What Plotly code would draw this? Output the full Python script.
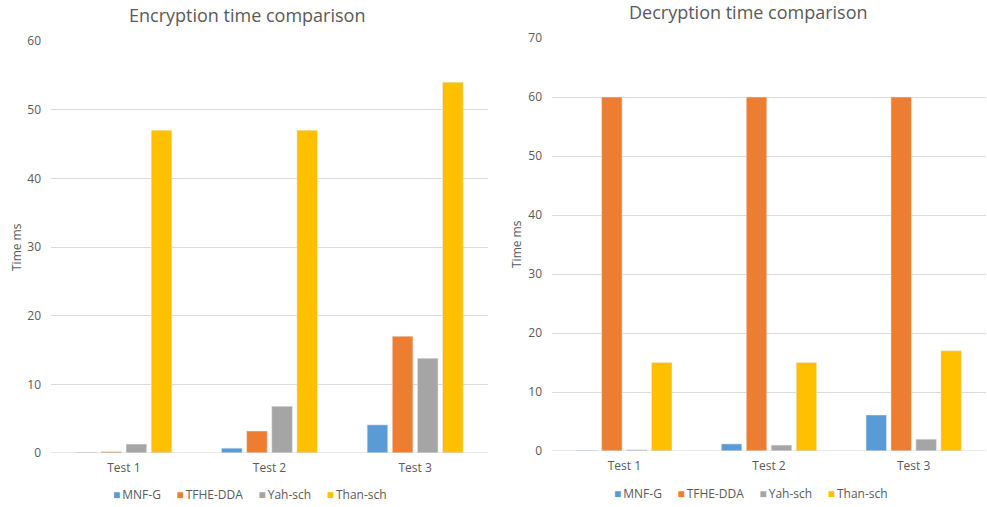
import plotly.graph_objects as go

categories = ["Test 1", "Test 2", "Test 3"]
series_names = ["MNF-G", "TFHE-DDA", "Yah-sch", "Than-sch"]
colors = ["#5B9BD5", "#ED7D31", "#A5A5A5", "#FFC000"]

# Encryption times (ms)
enc_mnf = [0.1, 0.7, 4.1]
enc_tfhe = [0.2, 3.2, 17.0]
enc_yah = [1.3, 6.8, 13.8]
enc_than = [47.0, 47.0, 54.0]

# Decryption times (ms)
dec_mnf = [0.1, 1.2, 6.1]
dec_tfhe = [60.0, 60.0, 60.0]
dec_yah = [0.2, 1.0, 2.0]
dec_than = [15.0, 15.0, 17.0]

enc_series = [enc_mnf, enc_tfhe, enc_yah, enc_than]
dec_series = [dec_mnf, dec_tfhe, dec_yah, dec_than]

W, H = 987, 507
text_color = "#595959"
font_family = "Open Sans, Liberation Sans, sans-serif"

fig = go.Figure()

for name, color, vals in zip(series_names, colors, enc_series):
    fig.add_trace(go.Bar(x=categories, y=vals, name=name, marker_color=color,
                         xaxis="x", yaxis="y", showlegend=False))
for name, color, vals in zip(series_names, colors, dec_series):
    fig.add_trace(go.Bar(x=categories, y=vals, name=name, marker_color=color,
                         xaxis="x2", yaxis="y2", showlegend=False))


def px_x(p):
    return p / W


def px_y(p):
    return (H - p) / H


axis_common = dict(showline=False, zeroline=False, ticks="",
                   tickfont=dict(size=12, color=text_color, family=font_family))

# Compact horizontal legend built as a single line of text with coloured swatches
gap = "\u00a0" * 5
legend_text = gap.join(
    f"<span style='color:{c}'>■</span>\u2009{n}" for n, c in zip(series_names, colors)
)

fig.update_layout(
    width=W, height=H,
    margin=dict(l=0, r=0, t=0, b=0, autoexpand=False),
    paper_bgcolor="white", plot_bgcolor="white",
    barmode="group", bargap=0.31, bargroupgap=0.18,
    font=dict(family=font_family, color=text_color),
    xaxis=dict(domain=[px_x(51), px_x(488)], anchor="y", ticklabelstandoff=6, **axis_common),
    yaxis=dict(domain=[px_y(453), px_y(41)], anchor="x", range=[0, 60], dtick=10,
               ticklabelstandoff=9,
               showgrid=True, gridcolor="#D9D9D9", gridwidth=1, **axis_common),
    xaxis2=dict(domain=[px_x(552), px_x(986)], anchor="y2", ticklabelstandoff=6, **axis_common),
    yaxis2=dict(domain=[px_y(451), px_y(38)], anchor="x2", range=[0, 70], dtick=10,
                ticklabelstandoff=9,
                showgrid=True, gridcolor="#D9D9D9", gridwidth=1, **axis_common),
    annotations=[
        dict(text="Encryption time comparison", x=px_x(247), y=px_y(15), xref="paper", yref="paper",
             xanchor="center", yanchor="middle", showarrow=False,
             font=dict(size=18, color=text_color)),
        dict(text="Decryption time comparison", x=px_x(748), y=px_y(12), xref="paper", yref="paper",
             xanchor="center", yanchor="middle", showarrow=False,
             font=dict(size=18, color=text_color)),
        dict(text="Time ms", x=px_x(16), y=px_y(247), xref="paper", yref="paper", textangle=-90,
             xanchor="center", yanchor="middle", showarrow=False,
             font=dict(size=12, color=text_color)),
        dict(text="Time ms", x=px_x(516), y=px_y(244), xref="paper", yref="paper", textangle=-90,
             xanchor="center", yanchor="middle", showarrow=False,
             font=dict(size=12, color=text_color)),
        dict(text=legend_text, x=px_x(250), y=px_y(494), xref="paper", yref="paper",
             xanchor="center", yanchor="middle", showarrow=False,
             font=dict(size=12, color=text_color)),
        dict(text=legend_text, x=px_x(751), y=px_y(493), xref="paper", yref="paper",
             xanchor="center", yanchor="middle", showarrow=False,
             font=dict(size=12, color=text_color)),
    ],
)

# Zero baselines drawn a little darker than the gridlines
fig.add_shape(type="line", xref="x domain", yref="y", x0=0, x1=1, y0=0, y1=0,
              line=dict(color="#D0D0D0", width=1))
fig.add_shape(type="line", xref="x2 domain", yref="y2", x0=0, x1=1, y0=0, y1=0,
              line=dict(color="#D0D0D0", width=1))

fig.write_html("out.html")
